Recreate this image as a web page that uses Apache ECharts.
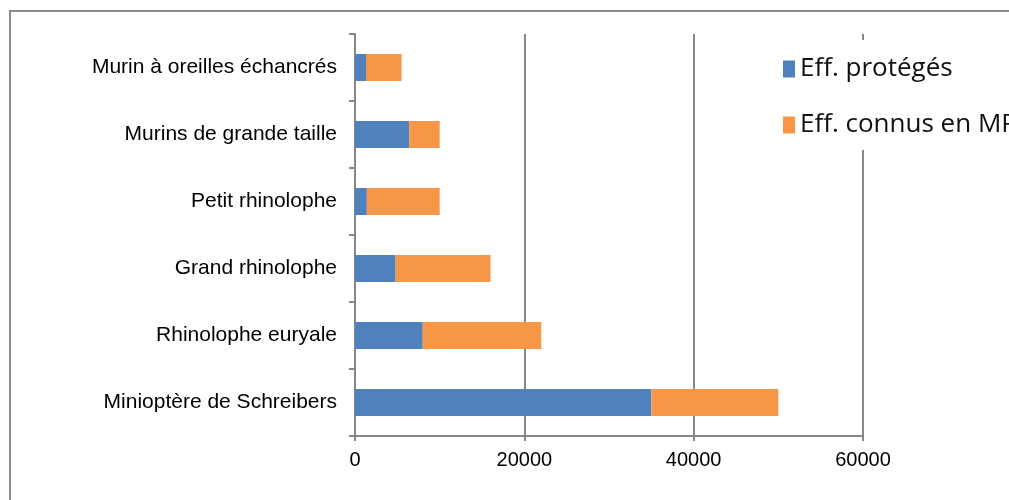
<!DOCTYPE html>
<html><head><meta charset="utf-8">
<script src="https://cdn.jsdelivr.net/npm/echarts@6/dist/echarts.min.js"></script>
<style>html,body{margin:0;padding:0;background:#fff}#c{width:1009px;height:500px}</style>
</head><body><div id="c"></div>
<script>
const categories = ["Minioptère de Schreibers","Rhinolophe euryale","Grand rhinolophe","Petit rhinolophe","Murins de grande taille","Murin à oreilles échancrés"];
const protectedVals = [35000, 8000, 4800, 1400, 6400, 1300];
const knownExtraVals = [15000, 14000, 11200, 8600, 3600, 4200];
const seriesNames = ["Eff. protégés", "Eff. connus en MP"];
const xTicks = [0, 20000, 40000, 60000];

const chart = echarts.init(document.getElementById('c'), null, {renderer:'canvas'});
chart.setOption({
  animation:false,
  backgroundColor:'#fff',
  graphic:[{type:'rect', shape:{x:10,y:11,width:1200,height:700}, style:{fill:'none', stroke:'#8c8c8c', lineWidth:2}, z:100}],
  grid:{left:355, right:146, top:34, bottom:64, containLabel:false},
  legend:{
    orient:'vertical', left:778, top:40, itemGap:30, itemWidth:12, itemHeight:17,
    padding:[16,60,12,5], backgroundColor:'#fff',
    icon:'rect',
    textStyle:{fontFamily:'Open Sans', fontSize:26, color:'#111'},
    data:seriesNames
  },
  xAxis:{
    type:'value', min:xTicks[0], max:xTicks[xTicks.length-1], interval:20000,
    axisLine:{show:true, lineStyle:{color:'#888', width:2}},
    axisTick:{show:true, length:5, lineStyle:{color:'#888', width:2}},
    axisLabel:{fontFamily:'Liberation Sans', fontSize:20, color:'#000', margin:14, formatter:function(v){return String(v);}},
    splitLine:{show:true, lineStyle:{color:'#888', width:2}}
  },
  yAxis:{
    type:'category', data:categories,
    axisLine:{show:true, lineStyle:{color:'#888', width:2}},
    axisTick:{show:true, length:6, lineStyle:{color:'#888', width:2}},
    axisLabel:{fontFamily:'Liberation Sans', fontSize:21, color:'#000', margin:18}
  },
  series:[
    {name:seriesNames[0], type:'bar', stack:'s', data:protectedVals, barWidth:27, itemStyle:{color:'#4F81BD'}},
    {name:seriesNames[1], type:'bar', stack:'s', data:knownExtraVals, barWidth:27, itemStyle:{color:'#F79646'}}
  ]
});
</script></body></html>
